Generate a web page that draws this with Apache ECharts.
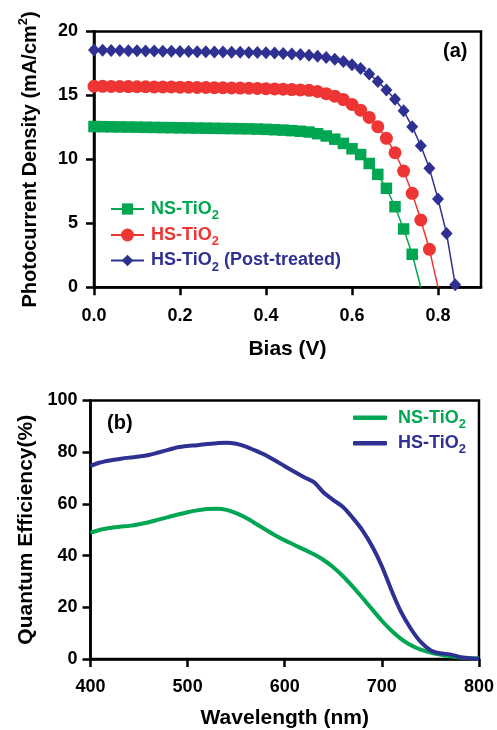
<!DOCTYPE html>
<html>
<head>
<meta charset="utf-8">
<script src="https://cdn.jsdelivr.net/npm/echarts@6/dist/echarts.min.js"></script>
<style>html,body{margin:0;padding:0;background:#fff;}#c{width:497px;height:730px;}</style>
</head>
<body>
<div id="c"></div>
<script>
// ---- Panel (a): J-V curves ----
const biasV = [0.00,0.02,0.04,0.06,0.08,0.10,0.12,0.14,0.16,0.18,0.20,0.22,0.24,0.26,0.28,0.30,0.32,0.34,0.36,0.38,0.40,0.42,0.44,0.46,0.48,0.50,0.52,0.54,0.56,0.58,0.60,0.62,0.64,0.66,0.68,0.70,0.72,0.74,0.76,0.78,0.80,0.82,0.84];
const nsJ = [12.57,12.56,12.55,12.54,12.53,12.52,12.51,12.50,12.49,12.48,12.47,12.46,12.45,12.44,12.43,12.42,12.41,12.40,12.39,12.37,12.35,12.32,12.29,12.25,12.20,12.14,12.01,11.83,11.58,11.25,10.83,10.38,9.68,8.83,7.74,6.30,4.56,2.58];
const hsJ = [15.72,15.71,15.70,15.70,15.69,15.68,15.68,15.67,15.66,15.66,15.65,15.64,15.63,15.62,15.61,15.60,15.59,15.58,15.57,15.55,15.53,15.51,15.49,15.46,15.43,15.40,15.31,15.14,14.94,14.68,14.30,13.85,13.28,12.56,11.65,10.52,9.09,7.35,5.26,2.97];
const hsPostJ = [18.55,18.53,18.52,18.51,18.50,18.49,18.48,18.47,18.46,18.45,18.44,18.43,18.42,18.41,18.40,18.39,18.38,18.37,18.36,18.35,18.33,18.31,18.28,18.24,18.20,18.14,18.06,17.96,17.83,17.65,17.40,17.10,16.68,16.10,15.43,14.70,13.80,12.56,11.07,9.30,6.90,4.20,0.20];
const nsEnd = [0.76, 0];
const hsEnd = [0.80, 0];
const biasTicks = [0, 0.2, 0.4, 0.6, 0.8];

// ---- Panel (b): quantum efficiency ----
const wavelength = [400,410,420,430,440,450,460,470,480,490,500,510,520,530,540,550,560,570,580,590,600,610,620,630,640,650,660,670,680,690,700,710,720,730,740,750,760,770,780,790,800];
const qeNS = [48.8,50.0,50.7,51.2,51.5,52.1,52.9,53.9,54.9,55.9,56.8,57.5,58.0,58.1,57.7,56.4,54.6,52.4,50.1,47.9,45.9,44.1,42.3,40.5,38.3,35.5,32.0,28.0,23.7,19.2,14.8,10.9,7.7,5.3,3.6,2.5,1.7,1.1,0.6,0.4,0.2];
const qeHS = [74.7,76.0,76.8,77.4,77.9,78.3,78.9,79.9,80.9,81.9,82.4,82.7,83.2,83.5,83.7,83.3,82.2,80.6,78.9,76.8,74.6,72.4,70.3,68.4,64.4,61.5,58.8,54.6,49.8,43.6,35.9,26.5,18.0,11.6,6.6,3.4,2.2,1.8,0.8,0.3,0.1];

const GREEN = '#00a651', RED = '#ef3434', BLUE = '#2e3192';
const FONT = '"Liberation Sans", Arial, Helvetica, sans-serif';

function pairs(xs, ys) { return ys.map((v, i) => [xs[i], v]); }

const bold = {fontFamily: FONT, fontWeight: 'bold', color: '#000'};
function axisCommon() {
  return {
    axisLine: {show: true, onZero: false, lineStyle: {color: '#000', width: 2.5}},
    axisTick: {show: true, inside: false, length: 8, lineStyle: {color: '#000', width: 2.5}},
    splitLine: {show: false}
  };
}

function legendRich() {
  const base = {fontFamily: FONT, fontWeight: 'bold', fontSize: 18, lineHeight: 26};
  const sub = {fontFamily: FONT, fontWeight: 'bold', fontSize: 13, lineHeight: 13, verticalAlign: 'bottom'};
  return {
    g: Object.assign({}, base, {color: GREEN, padding: [0,0,0,2]}),
    gs: Object.assign({}, sub, {color: GREEN}),
    r: Object.assign({}, base, {color: RED, padding: [0,0,0,2]}),
    rs: Object.assign({}, sub, {color: RED}),
    b: Object.assign({}, base, {color: BLUE, padding: [0,0,0,2]}),
    b2: Object.assign({}, base, {color: BLUE}),
    bs: Object.assign({}, sub, {color: BLUE}),
    gp: Object.assign({}, base, {color: GREEN, padding: [0,0,0,6]}),
    bp: Object.assign({}, base, {color: BLUE, padding: [0,0,0,6]})
  };
}

const labelsTop = {
  'NS-TiO2': '{g|NS-TiO}{gs|2}',
  'HS-TiO2': '{r|HS-TiO}{rs|2}',
  'HS-TiO2 (Post-treated)': '{b|HS-TiO}{bs|2}{b2| (Post-treated)}'
};
const labelsBottom = {
  'NS-TiO2 ': '{gp|NS-TiO}{gs|2}',
  'HS-TiO2 ': '{bp|HS-TiO}{bs|2}'
};

function topLegend(name, y, ih) {
  return {
    show: true, orient: 'vertical', left: 110, top: y - 13, padding: 0,
    itemWidth: 33, itemHeight: ih, selectedMode: false,
    data: [name],
    formatter: n => labelsTop[n],
    textStyle: {rich: legendRich()}
  };
}
function bottomLegend(name, y) {
  return {
    show: true, orient: 'vertical', left: 353, top: y - 13, padding: 0,
    itemWidth: 34, itemHeight: 4.5, icon: 'roundRect', selectedMode: false,
    data: [name],
    formatter: n => labelsBottom[n],
    textStyle: {rich: legendRich()}
  };
}

const chart = echarts.init(document.getElementById('c'), null, {renderer: 'canvas'});
chart.setOption({
  animation: false,
  backgroundColor: '#fff',
  grid: [
    {left: 94, top: 31.5, width: 387, height: 255.8, show: true, borderColor: '#000', borderWidth: 2.5, containLabel: false},
    {left: 90.5, top: 400.5, width: 390.5, height: 258.5, show: true, borderColor: '#000', borderWidth: 2.5, containLabel: false}
  ],
  xAxis: [
    Object.assign(axisCommon(), {
      gridIndex: 0, type: 'value', min: 0, max: 0.9, interval: 0.2,
      axisTick: {show: true, length: 8, customValues: biasTicks, lineStyle: {color: '#000', width: 2.5}},
      axisLabel: Object.assign({fontSize: 18, margin: 20, customValues: biasTicks, formatter: v => v.toFixed(1)}, bold),
      name: 'Bias (V)', nameLocation: 'middle', nameGap: 51,
      nameTextStyle: Object.assign({fontSize: 21}, bold)
    }),
    Object.assign(axisCommon(), {
      gridIndex: 1, type: 'value', min: 400, max: 800, interval: 100,
      axisLabel: Object.assign({fontSize: 18, margin: 19}, bold),
      name: 'Wavelength (nm)', nameLocation: 'middle', nameGap: 49,
      nameTextStyle: Object.assign({fontSize: 21}, bold)
    })
  ],
  yAxis: [
    Object.assign(axisCommon(), {
      gridIndex: 0, type: 'value', min: 0, max: 20, interval: 5,
      axisLabel: Object.assign({fontSize: 18, margin: 16}, bold),
      name: '{a|Photocurrent Density (mA/cm}{s|2}{a|)}', nameLocation: 'middle', nameGap: 51,
      nameTextStyle: {
        rich: {
          a: {fontFamily: FONT, fontWeight: 'bold', fontSize: 20, color: '#000', lineHeight: 26},
          s: {fontFamily: FONT, fontWeight: 'bold', fontSize: 13, color: '#000', lineHeight: 13, verticalAlign: 'top'}
        }
      }
    }),
    Object.assign(axisCommon(), {
      gridIndex: 1, type: 'value', min: 0, max: 100, interval: 20,
      axisLabel: Object.assign({fontSize: 18, margin: 13}, bold),
      name: 'Quantum Efficiency(%)', nameLocation: 'middle', nameGap: 53,
      nameTextStyle: Object.assign({fontSize: 21}, bold)
    })
  ],
  legend: [
    topLegend('NS-TiO2', 213, 14),
    topLegend('HS-TiO2', 239, 16),
    topLegend('HS-TiO2 (Post-treated)', 264.5, 14.5),
    bottomLegend('NS-TiO2 ', 421.7),
    bottomLegend('HS-TiO2 ', 447.3)
  ],
  graphic: [
    {type: 'text', left: 443, top: 41, style: {text: '(a)', font: 'bold 20px ' + FONT, fill: '#000'}},
    {type: 'text', left: 107, top: 413, style: {text: '(b)', font: 'bold 20px ' + FONT, fill: '#000'}}
  ],
  series: [
    {
      name: 'NS-TiO2', type: 'line', xAxisIndex: 0, yAxisIndex: 0,
      data: pairs(biasV, nsJ).concat([{value: nsEnd, symbol: 'none'}]),
      symbol: 'rect', symbolSize: 11.5, showAllSymbol: true,
      lineStyle: {color: GREEN, width: 1.5}, itemStyle: {color: GREEN}, z: 3
    },
    {
      name: 'HS-TiO2', type: 'line', xAxisIndex: 0, yAxisIndex: 0,
      data: pairs(biasV, hsJ).concat([{value: hsEnd, symbol: 'none'}]),
      symbol: 'circle', symbolSize: 13, showAllSymbol: true,
      lineStyle: {color: RED, width: 1.5}, itemStyle: {color: RED}, z: 3
    },
    {
      name: 'HS-TiO2 (Post-treated)', type: 'line', xAxisIndex: 0, yAxisIndex: 0,
      data: pairs(biasV, hsPostJ),
      symbol: 'diamond', symbolSize: [12, 13], showAllSymbol: true,
      lineStyle: {color: BLUE, width: 1.5}, itemStyle: {color: BLUE}, z: 3
    },
    {
      name: 'NS-TiO2 ', type: 'line', xAxisIndex: 1, yAxisIndex: 1,
      data: pairs(wavelength, qeNS), symbol: 'none', smooth: 0.3,
      lineStyle: {color: GREEN, width: 4}, itemStyle: {color: GREEN}, z: 3
    },
    {
      name: 'HS-TiO2 ', type: 'line', xAxisIndex: 1, yAxisIndex: 1,
      data: pairs(wavelength, qeHS), symbol: 'none', smooth: 0.3,
      lineStyle: {color: BLUE, width: 4}, itemStyle: {color: BLUE}, z: 3
    }
  ]
});
</script>
</body>
</html>
